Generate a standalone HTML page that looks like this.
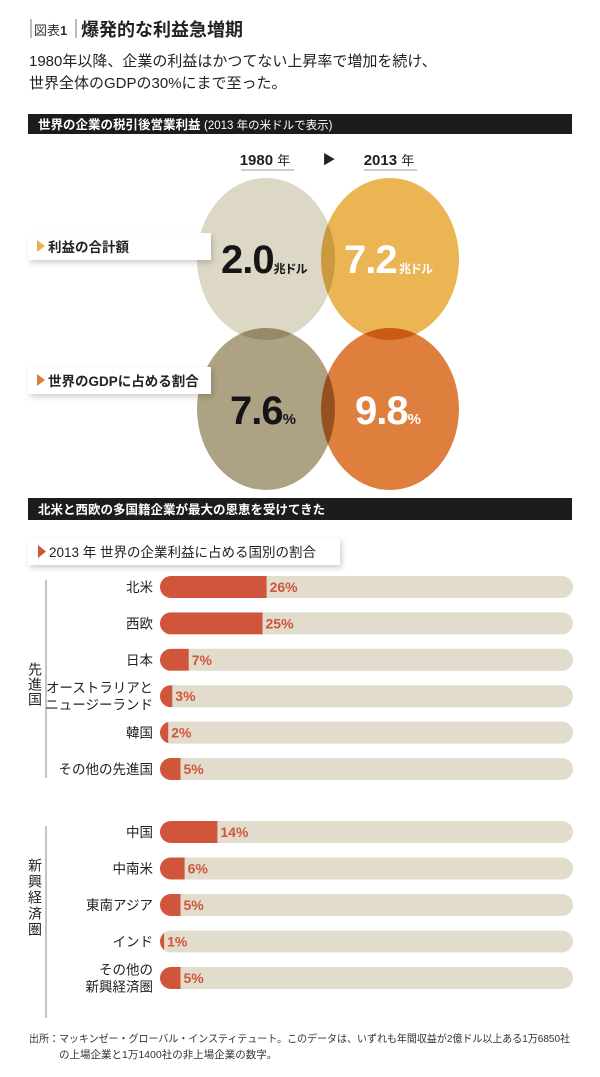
<!DOCTYPE html>
<html><head><meta charset="utf-8"><style>
html,body{margin:0;padding:0;background:#fff;}
svg{display:block;font-family:"Liberation Sans","Noto Sans CJK JP",sans-serif;}
</style></head><body>
<svg id="chart" width="600" height="1077" viewBox="0 0 600 1077" xmlns="http://www.w3.org/2000/svg">
<defs>
<filter id="sh" x="-10%" y="-30%" width="130%" height="190%"><feDropShadow dx="2" dy="3" stdDeviation="3" flood-color="#000" flood-opacity="0.18"/></filter>
</defs>
<g>
<line x1="31" y1="19" x2="31" y2="38" stroke="#555" stroke-width="0.8"/>
<text x="34" y="35" font-size="13" fill="#333">図表<tspan font-weight="bold">1</tspan></text>
<line x1="76" y1="19" x2="76" y2="38" stroke="#555" stroke-width="0.8"/>
<text x="81" y="36" font-size="18" font-weight="bold" fill="#222">爆発的な利益急増期</text>
</g>
<g font-size="15" fill="#222">
<text x="29" y="66">1980年以降、企業の利益はかつてない上昇率で増加を続け、</text>
<text x="29" y="88">世界全体のGDPの30%にまで至った。</text>
</g>
<g>
<rect x="28" y="114" width="544" height="20" fill="#1c1c1c"/>
<text x="38" y="129" font-size="12.5" font-weight="bold" fill="#fff">世界の企業の税引後営業利益 <tspan font-weight="normal" font-size="11.5">(2013 年の米ドルで表示)</tspan></text>
</g>
<g fill="#222">
<text x="265" y="165" font-size="15" font-weight="bold" text-anchor="middle">1980 <tspan font-weight="normal" font-size="13">年</tspan></text>
<line x1="241" y1="170" x2="294" y2="170" stroke="#999" stroke-width="1"/>
<text x="329" y="164" font-size="13" text-anchor="middle">▶</text>
<text x="389" y="165" font-size="15" font-weight="bold" text-anchor="middle">2013 <tspan font-weight="normal" font-size="13">年</tspan></text>
<line x1="364" y1="170" x2="417" y2="170" stroke="#999" stroke-width="1"/>
</g>
<g style="isolation:isolate">
<ellipse cx="266" cy="259" rx="69" ry="81" fill="#ddd7c5" style="mix-blend-mode:multiply"/>
<ellipse cx="390" cy="259" rx="69" ry="81" fill="#eab552" style="mix-blend-mode:multiply"/>
<ellipse cx="266" cy="409" rx="69" ry="81" fill="#ada283" style="mix-blend-mode:multiply"/>
<ellipse cx="390" cy="409" rx="69" ry="81" fill="#de7f3e" style="mix-blend-mode:multiply"/>
</g>
<g>
<rect x="28" y="233" width="183" height="27" fill="#fff" filter="url(#sh)"/>
<path d="M37 240 L45 246 L37 252 Z" fill="#e9b150"/>
<text x="48" y="252" font-size="13.5" font-weight="bold" fill="#222">利益の合計額</text>
</g>
<g>
<rect x="28" y="367" width="183" height="27" fill="#fff" filter="url(#sh)"/>
<path d="M37 374 L45 380 L37 386 Z" fill="#dc7d3c"/>
<text x="48" y="386" font-size="13.5" font-weight="bold" fill="#222">世界のGDPに占める割合</text>
</g>
<g font-weight="bold">
<text x="221" y="273" font-size="40" fill="#151515" letter-spacing="-1">2.0<tspan font-size="12">兆ドル</tspan></text>
<text x="344" y="273" font-size="40" fill="#fff" letter-spacing="-1">7.2<tspan font-size="12"> 兆ドル</tspan></text>
<text x="230" y="424" font-size="40" fill="#151515" letter-spacing="-1">7.6<tspan font-size="15">%</tspan></text>
<text x="355" y="424" font-size="40" fill="#fff" letter-spacing="-1">9.8<tspan font-size="15">%</tspan></text>
</g>
<g>
<rect x="28" y="498" width="544" height="22" fill="#1c1c1c"/>
<text x="38" y="514" font-size="12.5" font-weight="bold" fill="#fff">北米と西欧の多国籍企業が最大の恩恵を受けてきた</text>
</g>
<g>
<rect x="28" y="538" width="312" height="27" fill="#fff" filter="url(#sh)"/>
<path d="M38 545 L46 551.5 L38 558 Z" fill="#d0553a"/>
<text x="49" y="557" font-size="13.5" fill="#222">2013 年 世界の企業利益に占める国別の割合</text>
</g>
<g>
<line x1="46" y1="580" x2="46" y2="778" stroke="#888" stroke-width="1"/>
<text x="35" y="662" font-size="14" fill="#222" style="writing-mode:tb" text-anchor="start" letter-spacing="1">先進国</text>
</g>
<g>
<line x1="46" y1="826" x2="46" y2="1018" stroke="#888" stroke-width="1"/>
<text x="35" y="858" font-size="14" fill="#222" style="writing-mode:tb" text-anchor="start" letter-spacing="2">新興経済圏</text>
</g>
<g id="bars"></g>
<g font-size="10.5" fill="#333">
<text x="29" y="1042" textLength="541" lengthAdjust="spacingAndGlyphs">出所：マッキンゼー・グローバル・インスティテュート。このデータは、いずれも年間収益が2億ドル以上ある1万6850社</text>
<text x="59" y="1058">の上場企業と1万1400社の非上場企業の数字。</text>
</g>
</svg>
<script>
const categories = [["北米"],["西欧"],["日本"],["オーストラリアと","ニュージーランド"],["韓国"],["その他の先進国"],["中国"],["中南米"],["東南アジア"],["インド"],["その他の","新興経済圏"]];
const shareValues = [26,25,7,3,2,5,14,6,5,1,5];
const valueLabels = ["26%","25%","7%","3%","2%","5%","14%","6%","5%","1%","5%"];
const NS="http://www.w3.org/2000/svg";
const g=document.getElementById('bars');
const x0=160, trackW=413, pxPerPct=4.1, barH=22;
function xScale(v){return x0+v*pxPerPct;}
function yRow(i){return i<6 ? 587+i*36.4 : 832+(i-6)*36.5;}
function mk(t,a){const e=document.createElementNS(NS,t);for(const k in a)e.setAttribute(k,a[k]);return e;}
categories.forEach((c,i)=>{
  const cy=yRow(i);
  const row=mk('g',{});
  
  
  const cp=mk('clipPath',{id:'cp'+i});
  cp.appendChild(mk('rect',{x:x0,y:cy-barH/2,width:trackW,height:barH,rx:11}));
  row.appendChild(cp);
  const tr=mk('rect',{x:x0,y:cy-barH/2,width:trackW,height:barH,rx:11,fill:'#e2dccd'});
  
  
  row.appendChild(tr);
  const fl=mk('rect',{x:x0,y:cy-barH/2,width:xScale(shareValues[i])-x0,height:barH,fill:'#d0553a','clip-path':'url(#cp'+i+')'});
  
  
  row.appendChild(fl);
  const vl=mk('text',{x:xScale(shareValues[i])+3,y:cy+5,'font-size':14,'font-weight':'bold',fill:'#d0553a'});
  
  
  vl.textContent=valueLabels[i];
  row.appendChild(vl);
  c.forEach((line,j)=>{
    const t=mk('text',{x:153,y:cy+5+(j-(c.length-1)/2)*17,'font-size':13.5,fill:'#222','text-anchor':'end'});
    
    
    t.textContent=line;
    row.appendChild(t);
  });
  g.appendChild(row);
});
</script>
</body></html>
